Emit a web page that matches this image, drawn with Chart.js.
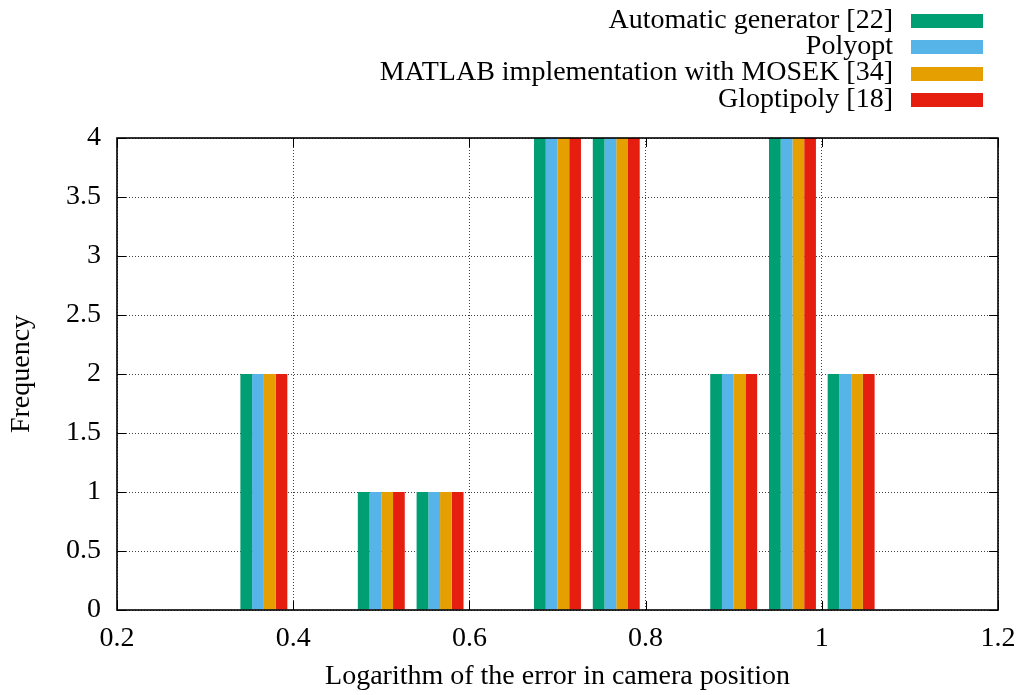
<!DOCTYPE html>
<html>
<head>
<meta charset="utf-8">
<script src="https://cdn.jsdelivr.net/npm/chart.js@4.4.1/dist/chart.umd.min.js"></script>
<style>
  html, body { margin: 0; padding: 0; background: #ffffff; }
  #wrap { width: 1022px; height: 695px; }
</style>
</head>
<body>
<div id="wrap"><canvas id="chart" width="1022" height="695"></canvas></div>
<script>
// Histogram bin centres (log10 of camera position error) and frequencies per solver
const binCenters = [0.3667, 0.5, 0.5667, 0.7, 0.7667, 0.9, 0.9667, 1.0333];
const automaticGenerator = [2, 1, 1, 4, 4, 2, 4, 2];
const polyopt            = [2, 1, 1, 4, 4, 2, 4, 2];
const matlabMosek        = [2, 1, 1, 4, 4, 2, 4, 2];
const gloptipoly         = [2, 1, 1, 4, 4, 2, 4, 2];

const seriesNames  = ['Automatic generator [22]', 'Polyopt', 'MATLAB implementation with MOSEK [34]', 'Gloptipoly [18]'];
const seriesColors = ['#009e73', '#56b4e9', '#e69f00', '#e51e10'];

const xTicks      = [0.2, 0.4, 0.6, 0.8, 1.0, 1.2];
const xTickLabels = ['0.2', '0.4', '0.6', '0.8', '1', '1.2'];
const yTicks      = [0, 0.5, 1, 1.5, 2, 2.5, 3, 3.5, 4];
const yTickLabels = ['0', '0.5', '1', '1.5', '2', '2.5', '3', '3.5', '4'];

const FONT_FAMILY = '"Liberation Serif", "DejaVu Serif", serif';
const FONT_SIZE = 28;

const seriesValues = [automaticGenerator, polyopt, matlabMosek, gloptipoly];

const datasets = seriesValues.map((vals, i) => ({
  label: seriesNames[i],
  data: binCenters.map((x, j) => ({ x: x, y: vals[j] })),
  backgroundColor: seriesColors[i],
  borderWidth: 0,
  categoryPercentage: 0.8,
  barPercentage: 1.0
}));

// Frame, inward mirrored tick marks and the top-right key
const framePlugin = {
  id: 'frame',
  afterDatasetsDraw(chart) {
    const { ctx, chartArea: a, scales } = chart;
    const tickLen = 9;
    ctx.save();
    ctx.strokeStyle = '#000';
    ctx.lineWidth = 1;
    ctx.beginPath();
    xTicks.forEach(v => {
      const px = Math.round(scales.x.getPixelForValue(v)) + 0.5;
      ctx.moveTo(px, a.bottom); ctx.lineTo(px, a.bottom - tickLen);
      ctx.moveTo(px, a.top);    ctx.lineTo(px, a.top + tickLen);
    });
    yTicks.forEach(v => {
      const py = Math.round(scales.y.getPixelForValue(v)) + 0.5;
      ctx.moveTo(a.left, py);  ctx.lineTo(a.left + tickLen, py);
      ctx.moveTo(a.right, py); ctx.lineTo(a.right - tickLen, py);
    });
    ctx.stroke();
    ctx.lineWidth = 1.6;
    ctx.strokeRect(a.left, a.top, a.right - a.left, a.bottom - a.top);
    ctx.restore();
  },
  afterDraw(chart) {
    const { ctx } = chart;
    const textRight = 893;
    const sampleLeft = 911, sampleWidth = 72, sampleHeight = 14;
    const rowTop = 21, rowStep = 26.3;
    ctx.save();
    ctx.font = FONT_SIZE + 'px ' + FONT_FAMILY;
    ctx.textAlign = 'right';
    ctx.textBaseline = 'alphabetic';
    ctx.fillStyle = '#000';
    chart.data.datasets.forEach((ds, i) => {
      const cy = rowTop + i * rowStep;
      ctx.fillText(ds.label, textRight, cy + 6.8);
      ctx.fillStyle = ds.backgroundColor;
      ctx.fillRect(sampleLeft, Math.round(cy - sampleHeight / 2), sampleWidth, sampleHeight);
      ctx.fillStyle = '#000';
    });
    ctx.restore();
  }
};

const gridStyle = {
  color: 'rgba(0,0,0,0.75)',
  lineWidth: 1,
  drawTicks: false,
  offset: false
};

new Chart(document.getElementById('chart'), {
  type: 'bar',
  data: { datasets },
  options: {
    responsive: false,
    animation: false,
    devicePixelRatio: 1,
    layout: { padding: { top: 138, right: 24, left: 0, bottom: 0 } },
    plugins: {
      legend: { display: false },
      tooltip: { enabled: false }
    },
    scales: {
      x: {
        type: 'linear',
        min: 0.2,
        max: 1.2,
        offset: false,
        grid: gridStyle,
        border: { display: false, dash: [1, 2] },
        afterBuildTicks(scale) { scale.ticks = xTicks.map(v => ({ value: v })); },
        afterFit(scale) {
          scale.height = 85;
          scale.paddingLeft = 0;
          scale.paddingRight = 0;
        },
        ticks: {
          color: '#000',
          padding: 12,
          maxRotation: 0,
          autoSkip: false,
          font: { family: FONT_FAMILY, size: FONT_SIZE },
          callback: (v, i) => xTickLabels[i]
        },
        title: {
          display: true,
          text: 'Logarithm of the error in camera position',
          color: '#000',
          font: { family: FONT_FAMILY, size: FONT_SIZE },
          padding: { top: 0, bottom: 2 }
        }
      },
      y: {
        type: 'linear',
        min: 0,
        max: 4,
        grid: gridStyle,
        border: { display: false, dash: [1, 2] },
        afterBuildTicks(scale) { scale.ticks = yTicks.map(v => ({ value: v })); },
        afterFit(scale) {
          scale.width = 117;
          scale.paddingTop = 0;
          scale.paddingBottom = 0;
        },
        ticks: {
          color: '#000',
          padding: 16,
          autoSkip: false,
          font: { family: FONT_FAMILY, size: FONT_SIZE },
          callback: (v, i) => yTickLabels[i]
        },
        title: {
          display: true,
          text: 'Frequency',
          color: '#000',
          font: { family: FONT_FAMILY, size: FONT_SIZE },
          padding: { top: 5, bottom: 0 }
        }
      }
    }
  },
  plugins: [framePlugin]
});
</script>
</body>
</html>
